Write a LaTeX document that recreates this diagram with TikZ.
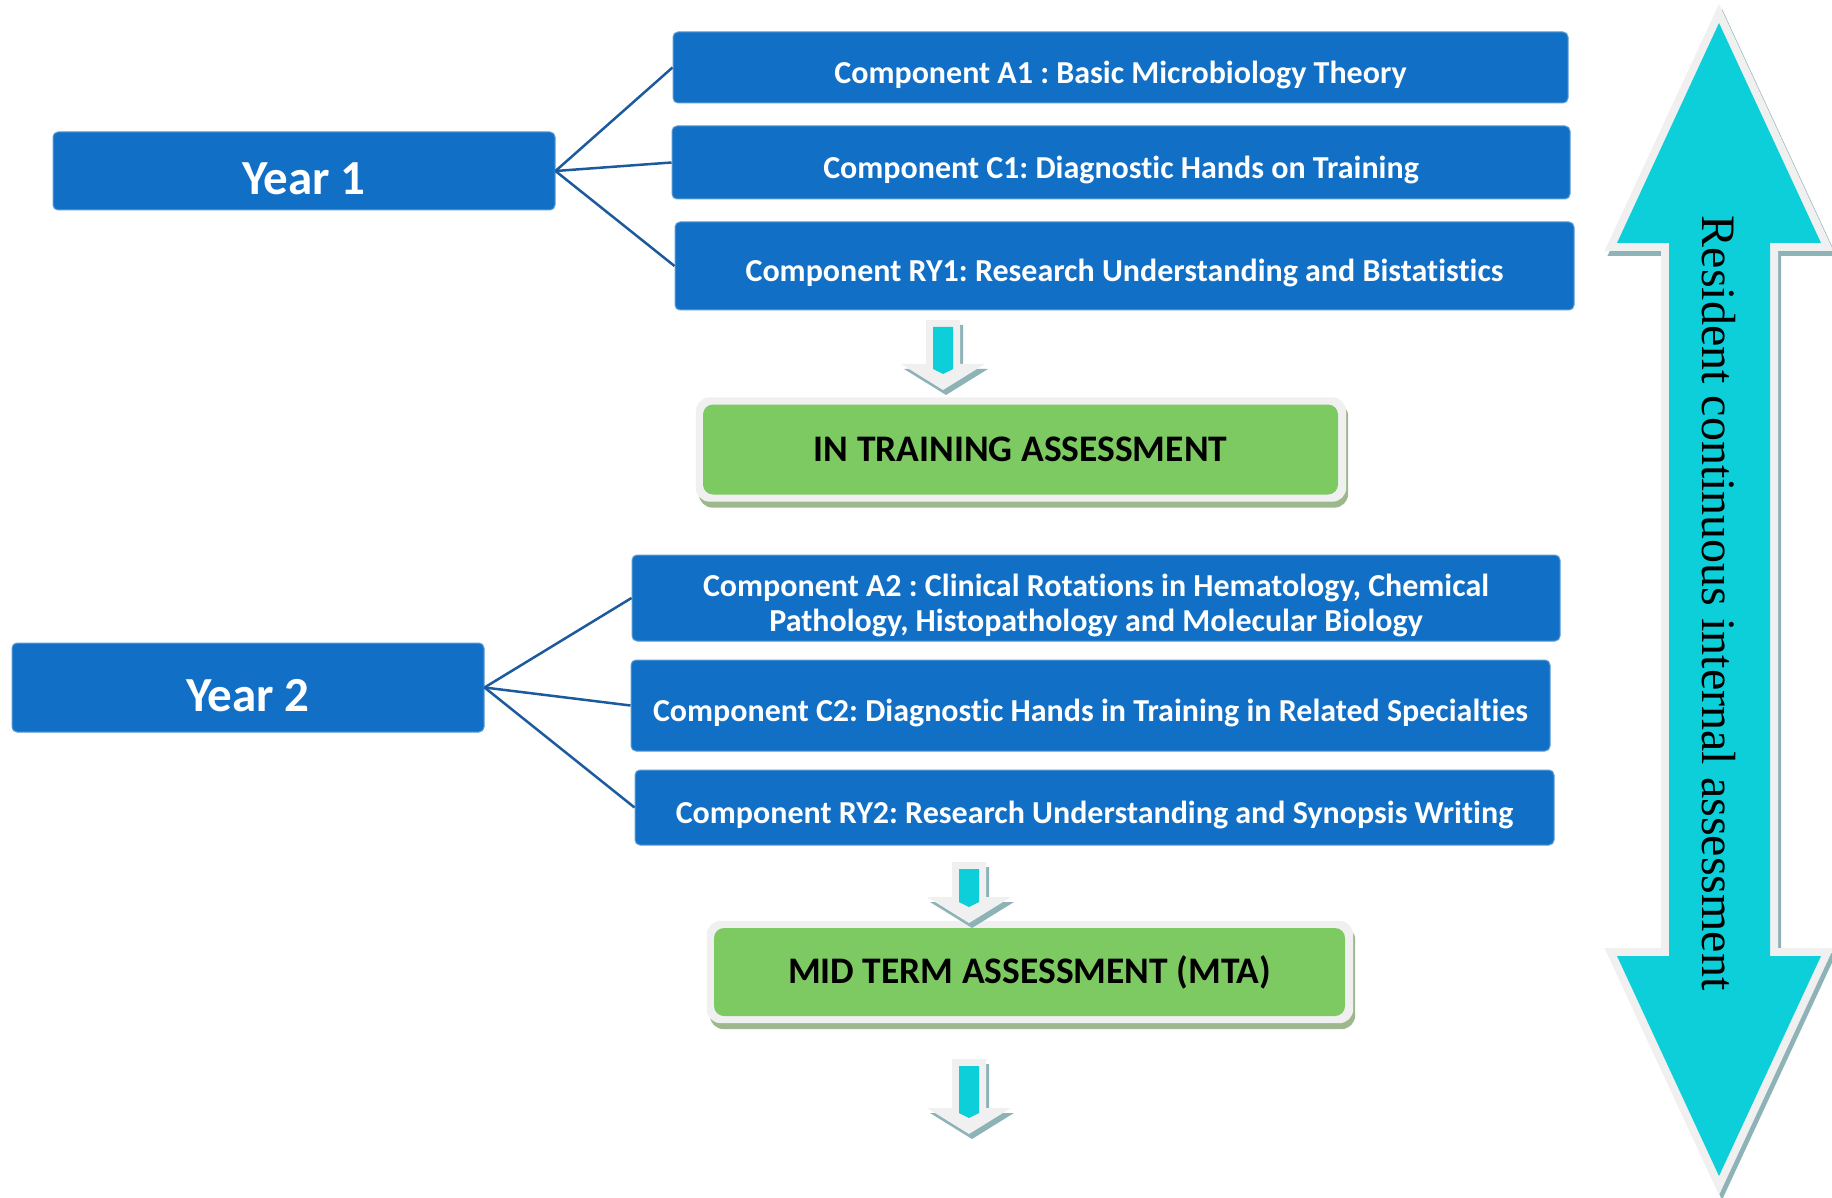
\documentclass[tikz,border=0pt]{standalone}
\usepackage{fontspec}
\setmainfont{Carlito}[Ligatures=NoCommon]
\newfontfamily\timesfont{Liberation Serif}
\usepackage{tikz}
\usetikzlibrary{calc,backgrounds}
\frenchspacing

\definecolor{boxblue}{HTML}{1170C6}
\definecolor{boxedge}{HTML}{5B9BD5}
\definecolor{linkblue}{HTML}{1B5A9C}
\definecolor{assgreen}{HTML}{7DCA62}
\definecolor{greenshade}{HTML}{9DB88C}
\definecolor{arrowcyan}{HTML}{0DCFD9}
\definecolor{rimgrey}{HTML}{F0F0F0}
\definecolor{rimshade}{HTML}{8DB3B7}

\newcommand{\resarrow}{(1719,23) -- (1821,243) -- (1770,243) -- (1770,956) -- (1821,956) -- (1719,1176) -- (1617,956) -- (1669,956) -- (1669,243) -- (1617,243) -- cycle}

\begin{document}
\begin{tikzpicture}[x=1pt,y=-1pt,
    yearbox/.style={fill=boxblue,draw=boxedge,line width=1pt,rounded corners=5pt,text=white,inner sep=0pt,text height=48pt,text depth=0pt,font=\fontsize{49}{55}\selectfont\bfseries},
    compbox/.style={fill=boxblue,draw=boxedge,line width=1pt,rounded corners=5pt,text=white,inner sep=0pt,align=center,text height=32pt,text depth=0pt,font=\fontsize{32}{35}\selectfont\bfseries},
    assbox/.style={fill=assgreen,rounded corners=10pt,text=black,inner sep=0pt,font=\fontsize{37.5}{42}\selectfont\bfseries},
    link/.style={linkblue,line width=2.5pt}]
        \useasboundingbox (0,0) rectangle (1832,1198);

        \node[yearbox,minimum width=502pt,minimum height=78pt] (y1) at (304,171) {Year 1};
        \node[compbox,minimum width=895pt,minimum height=71pt] (a1) at (1120.5,67.5) {Component A1 : Basic Microbiology Theory};
        \node[compbox,minimum width=898pt,minimum height=73pt] (c1) at (1121,162.5) {Component C1: Diagnostic Hands on Training};
        \node[compbox,minimum width=899pt,minimum height=88pt] (ry1) at (1124.5,266) {Component RY1: Research Understanding and Bistatistics};
        \draw[link] (y1.east) -- (a1.west);
        \draw[link] (y1.east) -- (c1.west);
        \draw[link] (y1.east) -- (ry1.west);

        \node[assbox,minimum width=635pt,minimum height=90pt] (ita) at (1020.5,449.5) {IN TRAINING ASSESSMENT};

        \node[yearbox,minimum width=472pt,minimum height=89pt] (y2) at (248,687.5) {Year 2};
        \node[compbox,text height=66pt,minimum width=928pt,minimum height=86pt] (a2) at (1096,598) {Component A2 : Clinical Rotations in Hematology, Chemical\\Pathology, Histopathology and Molecular Biology};
        \node[compbox,minimum width=919pt,minimum height=91pt] (c2) at (1090.5,705.5) {Component C2: Diagnostic Hands in Training in Related Specialties};
        \node[compbox,minimum width=919pt,minimum height=75pt] (ry2) at (1094.5,807.5) {Component RY2: Research Understanding and Synopsis Writing};
        \draw[link] (y2.east) -- (a2.west);
        \draw[link] (y2.east) -- (c2.west);
        \draw[link] (y2.east) -- (ry2.west);

        \node[assbox,minimum width=631pt,minimum height=88pt] (mta) at (1029.5,972) {MID TERM ASSESSMENT (MTA)};

        \begin{scope}[on background layer]
            \foreach \n in {ita,mta} {
                \fill[greenshade,rounded corners=14pt] ($(\n.north west)+(-4,-2)$) rectangle ($(\n.south east)+(10,13)$);
                \fill[rimgrey,rounded corners=14pt] ($(\n.north west)+(-7,-7)$) rectangle ($(\n.south east)+(8,7)$);
            }
        \end{scope}

        \foreach \cx/\ty/\h in {943/320/70, 969/862/61, 969/1059/75} {
            \fill[rimshade,shift={(3,5)}] (\cx-17,\ty) -- (\cx+17,\ty) -- (\cx+17,\ty+\h-26) -- (\cx+42,\ty+\h-26) -- (\cx,\ty+\h) -- (\cx-42,\ty+\h-26) -- (\cx-17,\ty+\h-26) -- cycle;
            \fill[rimgrey] (\cx-17,\ty) -- (\cx+17,\ty) -- (\cx+17,\ty+\h-26) -- (\cx+42,\ty+\h-26) -- (\cx,\ty+\h) -- (\cx-42,\ty+\h-26) -- (\cx-17,\ty+\h-26) -- cycle;
            \fill[arrowcyan] (\cx-10,\ty+7) -- (\cx+10,\ty+7) -- (\cx+10,\ty+\h-21) -- (\cx,\ty+\h-16) -- (\cx-10,\ty+\h-21) -- cycle;
        }

        \draw[rimshade,fill=rimshade,line width=16pt,shift={(3,5)}] \resarrow;
        \draw[rimgrey,line width=16pt] \resarrow;
        \fill[arrowcyan] \resarrow;
        \node[rotate=-90,font=\timesfont\fontsize{48}{52}\selectfont] (rcia) at (1719,603) {Resident continuous internal assessment};
\end{tikzpicture}
\end{document}
